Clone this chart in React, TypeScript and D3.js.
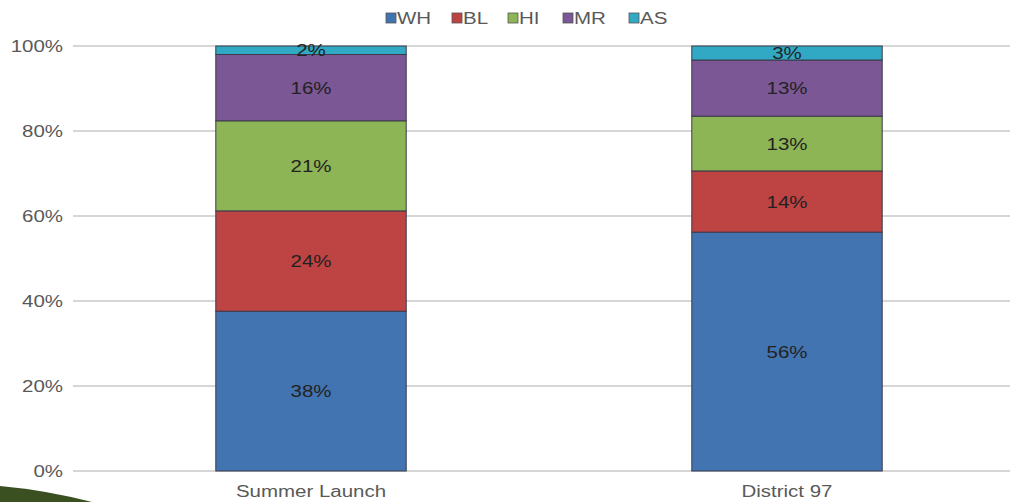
import React, { useEffect, useRef } from 'react';
import * as d3 from 'd3';

const categories = ['Summer Launch', 'District 97'];
const seriesNames = ['WH', 'BL', 'HI', 'MR', 'AS'];
const seriesColors = ['#4274b1', '#be4343', '#8db455', '#7b5795', '#31a8c4'];
// percent of each group, per category
const summerLaunch = [37.6, 23.6, 21.2, 15.6, 2.0];
const district97 = [56.2, 14.4, 12.9, 13.2, 3.3];
const yTicks = [0, 20, 40, 60, 80, 100];

const App: React.FC = () => {
  const svgRef = useRef<SVGSVGElement>(null);

  useEffect(() => {
    if (!svgRef.current) return;
    const width = 1012;
    const height = 502;
    const font = 'Liberation Sans, Arial, sans-serif';
    const stretch = 1.28; // the source text is drawn a bit wide

    const svg = d3.select(svgRef.current);
    svg.selectAll('*').remove();

    const rows = categories.map((c, i) => {
      const vals = i === 0 ? summerLaunch : district97;
      const row: any = { category: c };
      seriesNames.forEach((s, j) => (row[s] = vals[j]));
      return row;
    });

    const x = d3.scaleBand<string>()
      .domain(categories)
      .range([73, 1025])
      .paddingInner(0.6)
      .paddingOuter(0.3);

    const y = d3.scaleLinear().domain([0, 100]).range([471, 46]);

    // gridlines
    svg.append('g')
      .selectAll('line')
      .data(yTicks)
      .enter().append('line')
      .attr('x1', 73)
      .attr('x2', 1010)
      .attr('y1', d => y(d))
      .attr('y2', d => y(d))
      .attr('stroke', '#c8c8c8')
      .attr('stroke-width', 1.5);

    svg.append('g')
      .selectAll('text')
      .data(yTicks)
      .enter().append('text')
      .attr('transform', d => `translate(63,${y(d) + 6}) scale(${stretch},1)`)
      .attr('text-anchor', 'end')
      .attr('font-family', font)
      .attr('font-size', 16)
      .attr('fill', '#595959')
      .text(d => `${d}%`);

    const stacked = d3.stack<any>().keys(seriesNames)(rows);

    const layers = svg.append('g')
      .selectAll('g')
      .data(stacked)
      .enter().append('g')
      .attr('fill', (_d, i) => seriesColors[i]);

    layers.selectAll('rect')
      .data(d => d)
      .enter().append('rect')
      .attr('x', d => x(d.data.category) as number)
      .attr('width', x.bandwidth())
      .attr('y', d => y(d[1]))
      .attr('height', d => y(d[0]) - y(d[1]))
      .attr('stroke', '#3a3a4a')
      .attr('stroke-width', 1);

    layers.selectAll('text')
      .data(d => d.map(p => ({ p, key: d.key })))
      .enter().append('text')
      .attr('transform', d => {
        const cx = (x(d.p.data.category) as number) + x.bandwidth() / 2;
        const cy = (y(d.p[0]) + y(d.p[1])) / 2 + 6;
        return `translate(${cx},${cy}) scale(${stretch},1)`;
      })
      .attr('text-anchor', 'middle')
      .attr('font-family', font)
      .attr('font-size', 16)
      .attr('fill', '#222')
      .text(d => `${Math.round(d.p.data[d.key])}%`);

    // category labels
    svg.append('g')
      .selectAll('text')
      .data(categories)
      .enter().append('text')
      .attr('transform', d => `translate(${(x(d) as number) + x.bandwidth() / 2},497) scale(${stretch},1)`)
      .attr('text-anchor', 'middle')
      .attr('font-family', font)
      .attr('font-size', 16)
      .attr('fill', '#595959')
      .text(d => d);

    // legend
    const legendX = [386, 452, 508, 563, 629];
    const legend = svg.append('g')
      .selectAll('g')
      .data(seriesNames)
      .enter().append('g')
      .attr('transform', (_d, i) => `translate(${legendX[i]},13)`);
    legend.append('rect')
      .attr('width', 10)
      .attr('height', 10)
      .attr('fill', (_d, i) => seriesColors[i])
      .attr('stroke', '#555')
      .attr('stroke-width', 0.8);
    legend.append('text')
      .attr('transform', `translate(11,11) scale(${stretch},1)`)
      .attr('font-family', font)
      .attr('font-size', 16)
      .attr('fill', '#595959')
      .text(d => d);

    // slide decoration bottom-left
    svg.append('path')
      .attr('d', 'M0,486 Q45,490 92,502 L0,502 Z')
      .attr('fill', '#3b5020');

    svg.attr('width', width).attr('height', height);
  }, []);

  return (
    <div style={{ position: 'fixed', left: 0, top: 0, background: '#fff' }}>
      <svg ref={svgRef} width={1012} height={502} style={{ display: 'block' }}></svg>
    </div>
  );
};

export default App;
